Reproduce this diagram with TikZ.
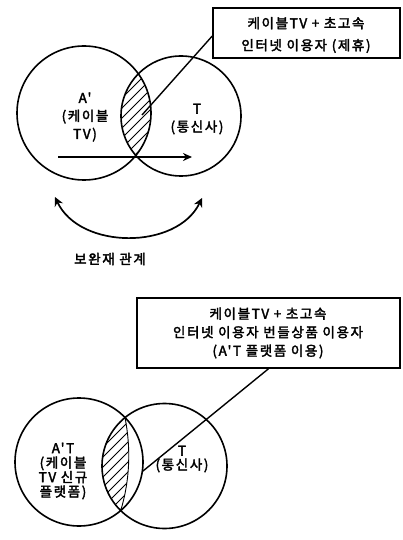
\documentclass[tikz,border=0pt]{standalone}
\usepackage{fontspec}
\newfontfamily\kr{Noto Sans CJK KR}[LetterSpace=12, FakeBold=2.5]
\usetikzlibrary{arrows.meta}
\tikzset{
  ring/.style={line width=1.6pt},
  boxnode/.style={draw, line width=1.5pt, inner sep=0pt},
  txt/.style={font=\kr\fontsize{13.5}{#1}\selectfont, align=center, inner sep=0pt},
  leader/.style={line width=1.4pt},
  hatchline/.style={line width=0.8pt},
}
\begin{document}
\begin{tikzpicture}[x=1pt,y=-1pt]
\useasboundingbox (0,0) rectangle (403,540);
% ---------- top diagram ----------
\coordinate (L1) at (84,113);
\coordinate (R1) at (181,116);
\begin{scope}
  \clip (L1) circle[radius=67pt];
  \clip (R1) circle[radius=60pt];
  \foreach \t in {-300,-290,...,300} {
    \draw[hatchline] (\t,300) -- ++(300,-300);
  }
\end{scope}
\draw[ring] (L1) circle[radius=67pt];
\draw[ring] (R1) circle[radius=60pt];
\node[boxnode, minimum width=187pt, minimum height=50pt] (box1) at (306.5,33) {};
\node[txt=22] (t1) at (306,35) {케이블TV + 초고속\\인터넷 이용자 (제휴)};
\node[txt=18] (la) at (85,117) {A'\\(케이블\\TV)};
\node[txt=18] (ra) at (197,119) {T\\(통신사)};
\coordinate (tip1) at (142,115);
\draw[leader] ([yshift=-3pt]box1.west) -- (tip1);
\coordinate (a1) at (58,157);
\coordinate (a2) at (192,157);
\draw[line width=2.2pt, -{Stealth[length=9pt,width=8pt]}] (a1) -- (a2);
\coordinate (c1) at (55,197);
\coordinate (c2) at (202,198);
\draw[line width=1.7pt, {Stealth[length=9pt,width=9pt]}-{Stealth[length=9pt,width=9pt]}] (c1) .. controls (80,250) and (177,250) .. (c2);
\node[txt=15] (rel) at (110,259) {보완재 관계};
% ---------- bottom diagram ----------
\coordinate (L2) at (79,462);
\coordinate (R2) at (164.5,466);
\begin{scope}
  \clip (R2) circle[radius=62.5pt];
  \clip (125,417.5) .. controls (131,448) and (130,480) .. (120.7,510.6) -- (0,510.6) -- (0,417.5) -- cycle;
  \foreach \t in {-400,-390,...,100} {
    \draw[hatchline] (\t,700) -- ++(400,-400);
  }
\end{scope}
\draw[line width=0.9pt] (125,417.5) .. controls (131,448) and (130,480) .. (120.7,510.6);
\draw[ring] (L2) circle[radius=64pt];
\draw[ring] (R2) circle[radius=62.5pt];
\node[boxnode, minimum width=263pt, minimum height=70pt] (box2) at (268.5,333) {};
\node[txt=18.5] (t2) at (268,333) {케이블TV + 초고속\\인터넷 이용자 번들상품 이용자\\(A'T 플랫폼 이용)};
\node[txt=14.5] (lb) at (63,471) {A'T\\(케이블\\TV 신규\\플랫폼)};
\node[txt=14] (rb) at (182,459) {T\\(통신사)};
\coordinate (tip2) at (143,471);
\draw[leader] (box2.south) -- (tip2);
\end{tikzpicture}
\end{document}
